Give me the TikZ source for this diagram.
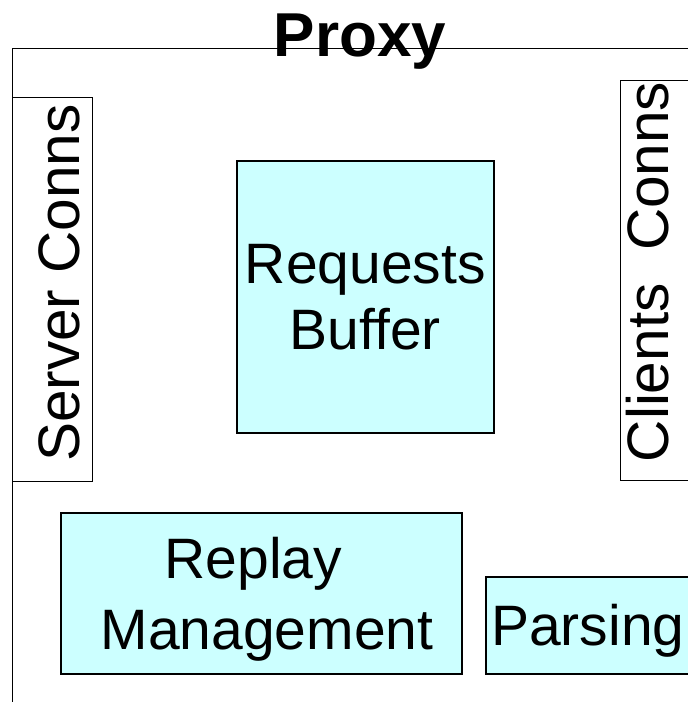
\documentclass[tikz,border=0pt]{standalone}
\usepackage{fontspec}
\setmainfont{Liberation Sans}
\definecolor{cyanfill}{HTML}{CCFFFF}
\newcommand{\diafont}{\fontsize{57}{66}\selectfont}
\begin{document}
\begin{tikzpicture}[x=1pt,y=-1pt,
  cyanbox/.style={draw=black, line width=1.6pt, fill=cyanfill, inner sep=0pt, align=center, font=\diafont, text depth=0pt},
  whitebox/.style={draw=black, line width=1pt, fill=white, inner sep=0pt},
  lbl/.style={inner sep=0pt, font=\fontsize{58.5}{66}\selectfont}]
\useasboundingbox (0,0) rectangle (688,702);
\clip (0,0) rectangle (688,702);
\fill[white] (0,0) rectangle (688,702);
% outer Proxy frame
\node[draw=black, line width=1.3pt, anchor=north west, minimum width=720pt, minimum height=700pt, inner sep=0pt] (frame) at (12,48) {};
\node[inner sep=0pt, anchor=base, font=\bfseries\fontsize{62}{62}\selectfont] (title) at (360,56) {Proxy};
% side connection boxes
\node[whitebox, anchor=north west, minimum width=80pt, minimum height=384pt] (srv) at (12,97) {};
\node[lbl, rotate=90, anchor=base] (srvt) at (79,283) {Server Conns};
\node[whitebox, anchor=north west, minimum width=90pt, minimum height=400pt] (cli) at (620,80) {};
\node[lbl, rotate=90, anchor=base] (clit) at (668,272) {Clients~~Conns};
% inner components
\node[cyanbox, anchor=north west, minimum width=257pt, minimum height=272pt] (req) at (236,160) {Requests\\Buffer};
\node[cyanbox, anchor=north west, minimum width=401pt, minimum height=161pt, font=\fontsize{57}{71}\selectfont] (rep) at (60,512) {Replay\hspace*{0.278em}\\\hspace*{0.2em}Management};
\node[cyanbox, anchor=north west, minimum width=204pt, minimum height=97pt] (par) at (485,576) {Parsing};
\end{tikzpicture}
\end{document}
